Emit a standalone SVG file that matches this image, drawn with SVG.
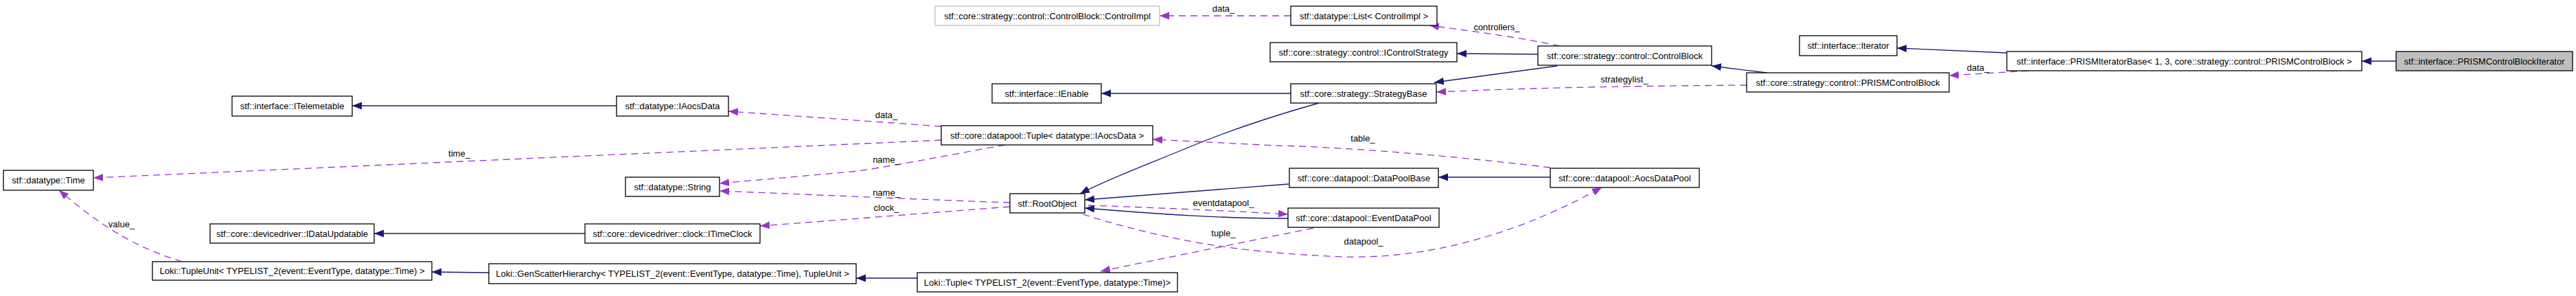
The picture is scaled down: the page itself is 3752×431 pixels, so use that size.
<svg xmlns="http://www.w3.org/2000/svg" width="3752" height="431" viewBox="0 0 3752 431">
<style>
.n rect{fill:#fff;stroke:#000;stroke-width:1.3}
.n.g rect{stroke:#bfbfbf}
.n.f rect{fill:#bfbfbf}
text{font-family:"Liberation Sans",Arial,sans-serif;font-size:13px;fill:#000}
.n text{text-anchor:middle}
.lbl{text-anchor:middle}
.inh{fill:none;stroke:#191970;stroke-width:1.3;marker-end:url(#ai)}
.use{fill:none;stroke:#9a32cd;stroke-width:1.3;stroke-dasharray:10,7;marker-end:url(#au)}
</style>
<defs>
<marker id="ai" markerUnits="userSpaceOnUse" markerWidth="15" markerHeight="12" refX="14" refY="5.5" orient="auto"><path d="M0,0 L14,5.5 L0,11 z" fill="#191970"/></marker>
<marker id="au" markerUnits="userSpaceOnUse" markerWidth="15" markerHeight="12" refX="14" refY="5.5" orient="auto"><path d="M0,0 L14,5.5 L0,11 z" fill="#9a32cd"/></marker>
</defs>
<rect width="3752" height="431" fill="#fff"/>
<g id="edges">
<path class="inh" d="M3490,89 L3440,89"/>
<path class="inh" d="M2923,77 L2763,70"/>
<path class="use" d="M2955,103 L2839,110"/>
<text class="lbl" x="2881" y="103">data_</text>
<path class="inh" d="M2574,106 L2493,96"/>
<path class="use" d="M2544,124 C2400,125 2250,127 2092,134"/>
<text class="lbl" x="2366" y="120">strategylist_</text>
<path class="use" d="M2272,67 C2200,52 2140,45 2082,37"/>
<text class="lbl" x="2180" y="44">controllers_</text>
<path class="inh" d="M2240,79 L2122,78"/>
<path class="inh" d="M2268,96 L2089,120"/>
<path class="use" d="M1880,23 L1689,23"/>
<text class="lbl" x="1782" y="17">data_</text>
<path class="inh" d="M1880,136 L1604,136"/>
<path class="inh" d="M1921,150 C1850,170 1790,190 1730,215 C1680,236 1620,258 1573,282"/>
<path class="inh" d="M2258,258 L2095,258"/>
<path class="inh" d="M1877,268 L1580,291"/>
<path class="inh" d="M1876,318 C1780,318 1690,312 1580,303"/>
<path class="use" d="M1585,299 C1700,303 1790,307 1876,312"/>
<text class="lbl" x="1782" y="300">eventdatapool_</text>
<path class="use" d="M1913,332 C1800,355 1700,375 1603,395"/>
<text class="lbl" x="1782" y="344">tuple_</text>
<path class="use" d="M1577,312 C1700,350 1800,368 1960,374 C2100,377 2230,330 2333,273"/>
<text class="lbl" x="1986" y="356">datapool_</text>
<path class="use" d="M2258,244 C2100,225 1950,214 1860,212 L1679,203"/>
<text class="lbl" x="1985" y="206">table_</text>
<path class="use" d="M1371,184 L1061,162"/>
<text class="lbl" x="1291" y="172">data_</text>
<path class="use" d="M1371,204 L136,259"/>
<text class="lbl" x="669" y="228">time_</text>
<path class="use" d="M1464,211 C1370,228 1290,244 1240,250 L1048,267"/>
<text class="lbl" x="1291" y="237">name_</text>
<path class="use" d="M1471,295 C1350,291 1200,284 1048,278"/>
<text class="lbl" x="1291" y="285">name_</text>
<path class="use" d="M1471,301 C1350,310 1230,320 1107,329"/>
<text class="lbl" x="1291" y="307">clock_</text>
<path class="inh" d="M852,340 L545,340"/>
<path class="inh" d="M1336,405 L1247,405"/>
<path class="inh" d="M712,397 L629,396"/>
<path class="use" d="M265,381 C215,365 165,345 86,277"/>
<text class="lbl" x="177" y="331">value_</text>
<path class="inh" d="M898,154 L513,154"/>
</g>
<g id="n_ctrlimpl" class="n g"><rect x="1362" y="9" width="327" height="28"/><text x="1525.5" y="27.5">stf::core::strategy::control::ControlBlock::ControlImpl</text></g>
<g id="n_list" class="n"><rect x="1880" y="9" width="213" height="28"/><text x="1986.5" y="27.5">stf::datatype::List&lt; ControlImpl &gt;</text></g>
<g id="n_icontrol" class="n"><rect x="1850" y="62" width="272" height="28"/><text x="1986" y="80.5">stf::core::strategy::control::IControlStrategy</text></g>
<g id="n_controlblock" class="n"><rect x="2240" y="67" width="253" height="28"/><text x="2366.5" y="85.5">stf::core::strategy::control::ControlBlock</text></g>
<g id="n_iterator" class="n"><rect x="2621" y="52" width="142" height="29"/><text x="2692" y="71">stf::interface::Iterator</text></g>
<g id="n_prismcb" class="n"><rect x="2544" y="106" width="295" height="28"/><text x="2691.5" y="124.5">stf::core::strategy::control::PRISMControlBlock</text></g>
<g id="n_prismbase" class="n"><rect x="2923" y="75" width="517" height="28"/><text x="3181.5" y="93.5">stf::interface::PRISMIteratorBase&lt; 1, 3, core::strategy::control::PRISMControlBlock &gt;</text></g>
<g id="n_prismiter" class="n f"><rect x="3490" y="75" width="257" height="28"/><text x="3618.5" y="93.5">stf::interface::PRISMControlBlockIterator</text></g>
<g id="n_ienable" class="n"><rect x="1445" y="122" width="159" height="28"/><text x="1524.5" y="140.5">stf::interface::IEnable</text></g>
<g id="n_strategybase" class="n"><rect x="1880" y="122" width="212" height="28"/><text x="1986" y="140.5">stf::core::strategy::StrategyBase</text></g>
<g id="n_itelemetable" class="n"><rect x="338" y="140" width="175" height="29"/><text x="425.5" y="159">stf::interface::ITelemetable</text></g>
<g id="n_iaocsdata" class="n"><rect x="898" y="140" width="163" height="29"/><text x="979.5" y="159">stf::datatype::IAocsData</text></g>
<g id="n_tuple" class="n"><rect x="1371" y="183" width="308" height="28"/><text x="1525" y="201.5">stf::core::datapool::Tuple&lt; datatype::IAocsData &gt;</text></g>
<g id="n_datapoolbase" class="n"><rect x="1878" y="245" width="217" height="28"/><text x="1986.5" y="263.5">stf::core::datapool::DataPoolBase</text></g>
<g id="n_aocsdatapool" class="n"><rect x="2258" y="245" width="217" height="28"/><text x="2366.5" y="263.5">stf::core::datapool::AocsDataPool</text></g>
<g id="n_time" class="n"><rect x="5" y="248" width="131" height="29"/><text x="70.5" y="267">stf::datatype::Time</text></g>
<g id="n_string" class="n"><rect x="911" y="258" width="137" height="28"/><text x="979.5" y="276.5">stf::datatype::String</text></g>
<g id="n_rootobject" class="n"><rect x="1471" y="282" width="109" height="28"/><text x="1525.5" y="300.5">stf::RootObject</text></g>
<g id="n_eventdatapool" class="n"><rect x="1876" y="303" width="220" height="28"/><text x="1986" y="321.5">stf::core::datapool::EventDataPool</text></g>
<g id="n_idataupdatable" class="n"><rect x="306" y="326" width="239" height="28"/><text x="425.5" y="344.5">stf::core::devicedriver::IDataUpdatable</text></g>
<g id="n_itimeclock" class="n"><rect x="852" y="326" width="255" height="28"/><text x="979.5" y="344.5">stf::core::devicedriver::clock::ITimeClock</text></g>
<g id="n_tupleunit" class="n"><rect x="222" y="381" width="407" height="27"/><text x="425.5" y="399">Loki::TupleUnit&lt; TYPELIST_2(event::EventType, datatype::Time) &gt;</text></g>
<g id="n_genscatter" class="n"><rect x="712" y="384" width="535" height="29"/><text x="979.5" y="403">Loki::GenScatterHierarchy&lt; TYPELIST_2(event::EventType, datatype::Time), TupleUnit &gt;</text></g>
<g id="n_lokituple" class="n"><rect x="1336" y="397" width="379" height="28"/><text x="1525.5" y="415.5">Loki::Tuple&lt; TYPELIST_2(event::EventType, datatype::Time)&gt;</text></g>
</svg>
